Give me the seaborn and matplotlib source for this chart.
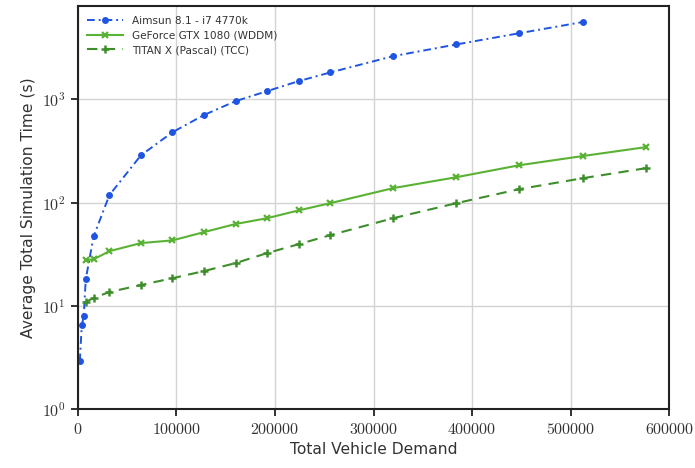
import numpy as np
import pandas as pd
import matplotlib
matplotlib.use("Agg")
import matplotlib.pyplot as plt
import seaborn as sns

# --- Daten ---
aimsun_x = [2000, 4000, 6000, 8000, 16000, 32000, 64000, 96000, 128000, 160000,
            192000, 224000, 256000, 320000, 384000, 448000, 512000]
aimsun_y = [2.9, 6.5, 7.9, 18, 47, 118, 287, 480, 705, 960,
            1200, 1500, 1820, 2620, 3400, 4370, 5600]

gpu_x = [8000, 16000, 32000, 64000, 96000, 128000, 160000, 192000, 224000,
         256000, 320000, 384000, 448000, 512000, 576000]
gtx_y = [27.7, 28.2, 33.8, 40.5, 43, 51.7, 62, 70.5, 84,
         98.6, 138, 176, 230, 282, 344]
titan_y = [10.9, 11.9, 13.6, 15.9, 18.5, 21.7, 25.9, 32.4, 39.5,
           48.3, 70.6, 98.6, 135, 172, 215]

labels = ["Aimsun 8.1 - i7 4770k", "GeForce GTX 1080 (WDDM)", "TITAN X (Pascal) (TCC)"]

# kein sns.set_theme -> matplotlib-Standard mit sichtbaren Ticks
plt.rcParams["font.family"] = ["DejaVu Sans"]
plt.rcParams["mathtext.fontset"] = "cm"
plt.rcParams["xtick.direction"] = "out"
plt.rcParams["ytick.direction"] = "out"

fig = plt.figure(figsize=(6.95, 4.68), dpi=100)
ax = fig.add_axes([0.112, 0.126, 0.851, 0.861])

df_a = pd.DataFrame({"x": aimsun_x, "y": aimsun_y})
df_g = pd.DataFrame({"x": gpu_x, "y": gtx_y})
df_t = pd.DataFrame({"x": gpu_x, "y": titan_y})

c_blue, c_green, c_dark = "#1f55e0", "#5ab235", "#3e8e2c"

sns.lineplot(data=df_a, x="x", y="y", ax=ax, color=c_blue, linestyle=(0, (4, 2, 1, 2)),
             marker="o", markersize=5, markeredgewidth=0, linewidth=1.4, label=labels[0])
sns.lineplot(data=df_g, x="x", y="y", ax=ax, color=c_green, linestyle="-",
             marker="x", markersize=4, markeredgewidth=1.6, markeredgecolor=c_green,
             linewidth=1.5, label=labels[1])
sns.lineplot(data=df_t, x="x", y="y", ax=ax, color=c_dark, linestyle=(0, (5, 3.5)),
             marker="+", markersize=5.5, markeredgewidth=1.8, markeredgecolor=c_dark,
             linewidth=1.5, label=labels[2])

ax.set_yscale("log")
ax.set_xlim(0, 600000)
ax.set_ylim(1, 8000)
ax.set_yticks([1, 10, 100, 1000])
ax.set_yticklabels([r"$10^{0}$", r"$10^{1}$", r"$10^{2}$", r"$10^{3}$"])
ax.yaxis.set_minor_locator(matplotlib.ticker.NullLocator())
xt = [0, 100000, 200000, 300000, 400000, 500000, 600000]
ax.set_xticks(xt)
ax.set_xticklabels([f"${v}$" for v in xt])

ax.set_axisbelow(True)
ax.grid(True, which="major", color="#d3d3d3", linewidth=1.0)
for s in ax.spines.values():
    s.set_color("#222222")
    s.set_linewidth(1.5)
ax.tick_params(axis="both", which="major", direction="out", length=5, width=1.3,
               color="#222222", labelsize=11.5, labelcolor="#333333", pad=4)

ax.set_xlabel("Total Vehicle Demand", fontsize=11.2, color="#333333")
ax.set_ylabel("Average Total Simulation Time (s)", fontsize=11.2, color="#333333")

ax.legend(loc="upper left", frameon=False, fontsize=7.6, handlelength=3.4,
          borderaxespad=0.5, labelspacing=0.45)
for t in ax.get_legend().get_texts():
    t.set_color("#333333")

fig.savefig("out.png", dpi=100)
